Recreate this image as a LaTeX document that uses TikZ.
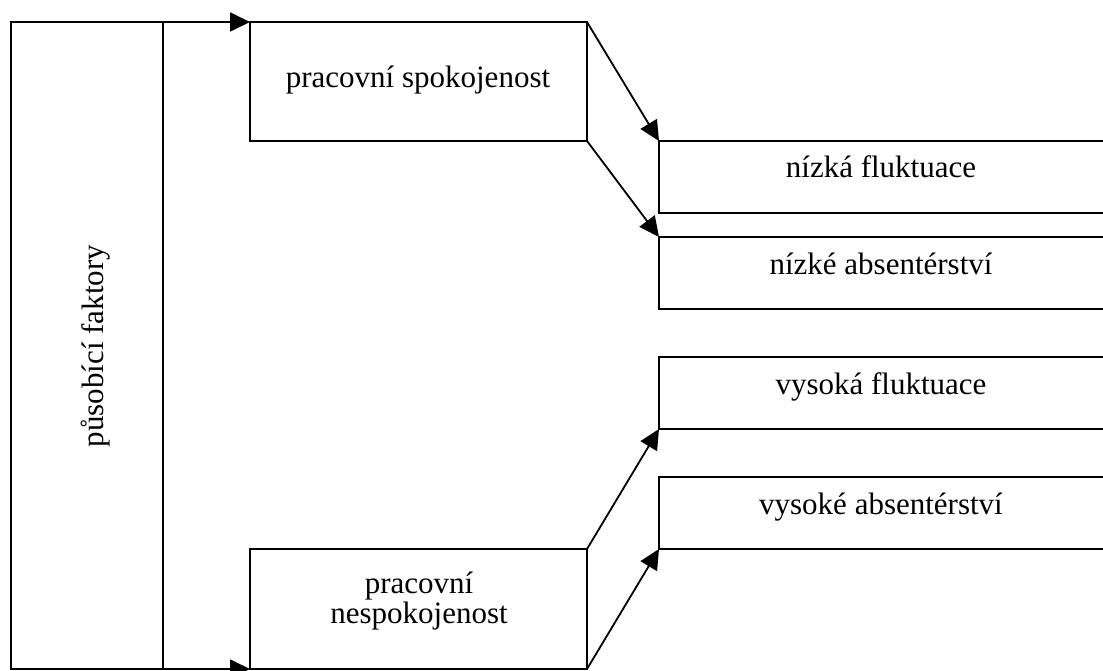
\documentclass[tikz,border=0pt]{standalone}
\usepackage{fontspec}
\setmainfont{Liberation Serif}
\usetikzlibrary{arrows.meta}
\begin{document}
\begin{tikzpicture}[x=1pt,y=-1pt,
  box/.style={draw=black,line width=1.8pt,rectangle,inner sep=0pt,outer sep=0pt,anchor=north west},
  lbl/.style={font=\fontsize{31}{31}\selectfont,inner sep=0pt,anchor=base},
  conn/.style={line width=1.8pt,-{Triangle[length=20pt,width=19pt]}}]
\useasboundingbox (0,0) rectangle (1103,671);
\clip (0,0) rectangle (1103,671);
% left column: acting factors
\node[box,minimum width=152pt,minimum height=647pt] (lf) at (11,22) {};
\node[lbl,rotate=90] (lft) at (103,346) {působící faktory};
% satisfaction / dissatisfaction boxes
\node[box,minimum width=337pt,minimum height=119pt] (sp) at (250,22) {};
\node[lbl] (spt) at (418,88) {pracovní spokojenost};
\node[box,minimum width=337pt,minimum height=120pt] (nsp) at (250,549) {};
\node[lbl] (nspa) at (419,593) {pracovní};
\node[lbl] (nspb) at (419,623) {nespokojenost};
% outcome boxes, running off the right edge
\node[box,minimum width=460pt,minimum height=72pt] (r1) at (659,141) {};
\node[box,minimum width=460pt,minimum height=72pt] (r2) at (659,237) {};
\node[box,minimum width=460pt,minimum height=72pt] (r3) at (659,357) {};
\node[box,minimum width=460pt,minimum height=72pt] (r4) at (659,477) {};
\node[lbl] (r1t) at (881,178) {nízká fluktuace};
\node[lbl] (r2t) at (881,274) {nízké absentérství};
\node[lbl] (r3t) at (881,394) {vysoká fluktuace};
\node[lbl] (r4t) at (881,514) {vysoké absentérství};
% connectors
\draw[conn] (lf.north east) -- (sp.north west);
\draw[conn] (lf.south east) -- (nsp.south west);
\draw[conn] (sp.north east) -- (r1.north west);
\draw[conn] (sp.south east) -- (r2.north west);
\draw[conn] (nsp.north east) -- (r3.south west);
\draw[conn] (nsp.south east) -- (r4.south west);
\end{tikzpicture}
\end{document}
